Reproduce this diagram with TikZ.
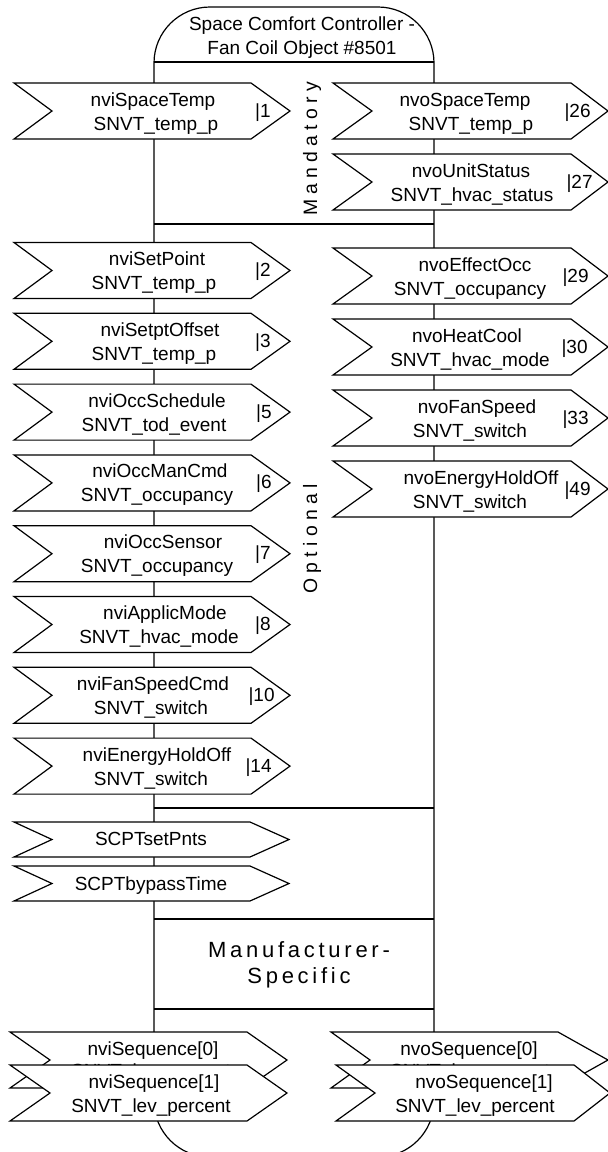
\documentclass[tikz,border=0pt]{standalone}
\usepackage{fontspec}
\setmainfont{Liberation Sans}
\newfontfamily\spacedfont[LetterSpace=27]{Liberation Sans}
\newfontfamily\mfrfont[LetterSpace=17]{Liberation Sans}
\tikzset{
  boxline/.style={draw=black, line width=0.6pt},
  sigshape/.style={draw=black, fill=white, line width=0.6pt, line join=miter},
  lbl/.style={font=\fontsize{9.5pt}{11pt}\selectfont, inner sep=0pt, anchor=base},
  numlbl/.style={font=\fontsize{9.5pt}{11pt}\selectfont, inner sep=0pt, anchor=base east},
  vlabel/.style={font=\spacedfont\fontsize{9.7pt}{11pt}\selectfont, rotate=90, inner sep=0pt},
  mfr/.style={font=\mfrfont\fontsize{11pt}{13pt}\selectfont, inner sep=0pt, anchor=base},
}
% L, R, C, H, N, P
\newcommand\sigpath[6]{%
  \draw[sigshape] ({#1},{#3-#4}) -- ({#2},{#3-#4}) -- ({#2+#6},{#3}) -- ({#2},{#3+#4}) -- ({#1},{#3+#4}) -- ({#1+#5},{#3}) -- cycle;}
% name, C, x1, t1, x2, t2
\newcommand\twolines[6]{%
  \node[lbl] (#1a) at ({#3},{#2-5}) {#4};
  \node[lbl] (#1b) at ({#5},{#2+19}) {#6};}
% name, x, C, text
\newcommand\numtag[4]{\node[numlbl] (#1) at ({#2},{#3+6}) {#4};}
\newcommand\lsig[1]{\sigpath{14}{251}{#1}{28}{38}{39}}
\newcommand\rsig[1]{\sigpath{333}{571}{#1}{28}{39}{37}}
\begin{document}
\begin{tikzpicture}[x=0.5pt,y=-0.5pt]
\useasboundingbox (0,0) rectangle (608,1152);
\clip (0,0) rectangle (608,1152);
\fill[white] (0,0) rectangle (608,1152);
% main object box
\draw[boxline, rounded corners=28] (154,1157) -- (154,7) -- (434,7) -- (434,1157) -- cycle;
\foreach \yy in {62,224,808,919,1009}
  \draw[boxline] (154,\yy) -- (434,\yy);
% title
\node[lbl] (title1) at (302,30) {Space Comfort Controller -};
\node[lbl] (title2) at (302,54) {Fan Coil Object \#8501};
% section labels
\node[vlabel] (mand) at (312,149) {Mandatory};
\node[vlabel] (opt) at (312,539) {Optional};
\node[mfr] (mfr1) at (299,957) {Manufacturer-};
\node[mfr] (mfr2) at (299,983) {Specific};
% mandatory
\lsig{111}\twolines{spt}{111}{153}{nviSpaceTemp}{156}{SNVT\_temp\_p}\numtag{n1}{271}{111}{|1}
\rsig{111}\twolines{ospt}{111}{465}{nvoSpaceTemp}{471}{SNVT\_temp\_p}\numtag{n26}{591}{111}{|26}
\rsig{182}\twolines{ous}{182}{471}{nvoUnitStatus}{472}{SNVT\_hvac\_status}\numtag{n27}{593}{182}{|27}
% optional inputs
\lsig{270.5}\twolines{sp}{270.5}{157}{nviSetPoint}{154}{SNVT\_temp\_p}\numtag{n2}{271}{270.5}{|2}
\lsig{341.3}\twolines{so}{341.3}{160}{nviSetptOffset}{154}{SNVT\_temp\_p}\numtag{n3}{271}{341.3}{|3}
\lsig{412.1}\twolines{os}{412.1}{157}{nviOccSchedule}{154}{SNVT\_tod\_event}\numtag{n5}{272}{412.1}{|5}
\lsig{482.9}\twolines{om}{482.9}{160}{nviOccManCmd}{157}{SNVT\_occupancy}\numtag{n6}{272}{482.9}{|6}
\lsig{553.7}\twolines{oc}{553.7}{163}{nviOccSensor}{157}{SNVT\_occupancy}\numtag{n7}{271}{553.7}{|7}
\lsig{624.5}\twolines{am}{624.5}{165}{nviApplicMode}{159}{SNVT\_hvac\_mode}\numtag{n8}{271}{624.5}{|8}
\lsig{695.3}\twolines{fs}{695.3}{153}{nviFanSpeedCmd}{151}{SNVT\_switch}\numtag{n10}{275}{695.3}{|10}
\lsig{766.1}\twolines{eh}{766.1}{157}{nviEnergyHoldOff}{151}{SNVT\_switch}\numtag{n14}{272}{766.1}{|14}
% optional outputs
\rsig{276}\twolines{eo}{276}{475}{nvoEffectOcc}{470}{SNVT\_occupancy}\numtag{n29}{589}{276}{|29}
\rsig{347}\twolines{hc}{347}{467}{nvoHeatCool}{470}{SNVT\_hvac\_mode}\numtag{n30}{588}{347}{|30}
\rsig{418}\twolines{ofs}{418}{477}{nvoFanSpeed}{470}{SNVT\_switch}\numtag{n33}{589}{418}{|33}
\rsig{489}\twolines{oeh}{489}{481}{nvoEnergyHoldOff}{470}{SNVT\_switch}\numtag{n49}{591}{489}{|49}
% configuration properties
\sigpath{14}{250}{839.5}{17.5}{38}{39}
\node[lbl] (cp1) at (151,845) {SCPTsetPnts};
\sigpath{14}{250}{883.5}{17.5}{38}{39}
\node[lbl] (cp2) at (151,890) {SCPTbypassTime};
% sequences (the [1] arrows are drawn over the [0] arrows, as in the original)
\sigpath{10}{247}{1060}{28}{40}{40}
\node[lbl] (isq0a) at (153,1055) {nviSequence[0]};
\node[lbl] (isq0b) at (151,1077) {SNVT\_lev\_percent};
\sigpath{331}{558}{1060}{28}{39}{50}
\node[lbl] (osq0a) at (469,1055) {nvoSequence[0]};
\node[lbl] (osq0b) at (470,1077) {SNVT\_lev\_percent};
\sigpath{10}{247}{1093}{28}{40}{40}
\twolines{isq1}{1093}{154}{nviSequence[1]}{151}{SNVT\_lev\_percent}
\sigpath{336}{574}{1093}{28}{39}{36}
\twolines{osq1}{1093}{484}{nvoSequence[1]}{475}{SNVT\_lev\_percent}
\end{tikzpicture}
\end{document}
